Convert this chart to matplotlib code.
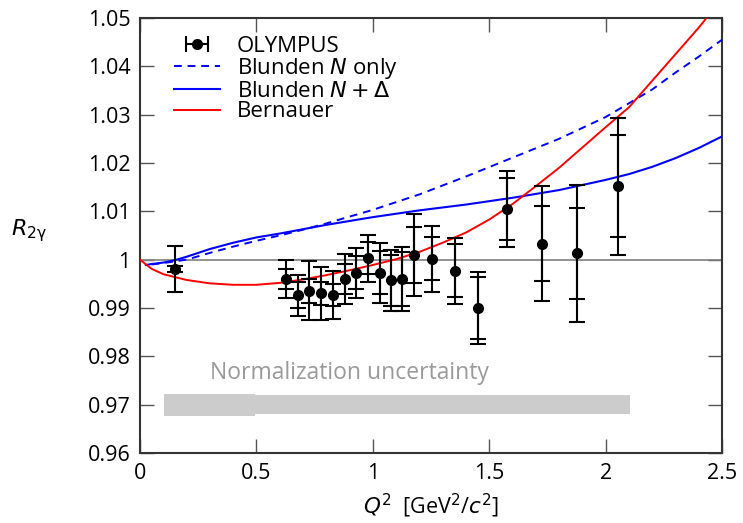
import numpy as np
import matplotlib
matplotlib.use("Agg")
import matplotlib.pyplot as plt
from matplotlib.ticker import FuncFormatter, MultipleLocator

plt.rcParams['font.family'] = ['Open Sans', 'DejaVu Sans']
plt.rcParams['mathtext.fontset'] = 'dejavusans'

# OLYMPUS data
q2 = [0.150, 0.627, 0.679, 0.727, 0.777, 0.827, 0.880, 0.927, 0.980, 1.030,
      1.079, 1.127, 1.177, 1.253, 1.354, 1.454, 1.578, 1.728, 1.879, 2.055]
r2g = [0.9981, 0.9960, 0.9926, 0.9936, 0.9930, 0.9927, 0.9960, 0.9973, 1.0003, 0.9973,
       0.9957, 0.9960, 1.0010, 1.0002, 0.9977, 0.9900, 1.0105, 1.0033, 1.0013, 1.0152]
err_stat = [0.0006, 0.0020, 0.0027, 0.0025, 0.0024, 0.0022, 0.0032, 0.0034, 0.0033, 0.0045,
            0.0053, 0.0055, 0.0058, 0.0045, 0.0055, 0.0064, 0.0064, 0.0078, 0.0094, 0.0105]
err_tot = [0.0047, 0.0040, 0.0042, 0.0061, 0.0054, 0.0049, 0.0051, 0.0052, 0.0049, 0.0062,
           0.0064, 0.0066, 0.0085, 0.0068, 0.0068, 0.0074, 0.0078, 0.0119, 0.0141, 0.0142]

# Blunden N only (dashed)
bn_q2 = [0.05, 0.1, 0.2, 0.3, 0.4, 0.5, 0.6, 0.7, 0.8, 0.9, 1.0, 1.2, 1.4, 1.6, 1.8, 2.0, 2.2, 2.3, 2.4, 2.5]
bn_r = [0.9990, 0.9993, 1.0000, 1.0014, 1.0027, 1.0039, 1.0050, 1.0062, 1.0075, 1.0089, 1.0103,
        1.0135, 1.0172, 1.0211, 1.0250, 1.0295, 1.0352, 1.0387, 1.0420, 1.0455]

# Blunden N + Delta (solid)
bnd_q2 = [0.025, 0.05, 0.1, 0.15, 0.2, 0.25, 0.3, 0.4, 0.5, 0.6, 0.7, 0.8, 0.9, 1.0, 1.2, 1.4,
          1.6, 1.8, 2.0, 2.1, 2.2, 2.3, 2.4, 2.5]
bnd_r = [0.9989, 0.9991, 0.9994, 0.9999, 1.0006, 1.0014, 1.0022, 1.0035, 1.0046, 1.0054, 1.0063,
         1.0072, 1.0080, 1.0088, 1.0102, 1.0114, 1.0128, 1.0144, 1.0165, 1.0177, 1.0192, 1.0210,
         1.0231, 1.0255]

# Bernauer (red)
be_q2 = [0.0, 0.05, 0.1, 0.2, 0.3, 0.4, 0.5, 0.6, 0.7, 0.8, 0.9, 1.0, 1.1, 1.2, 1.3, 1.4, 1.5,
         1.6, 1.7, 1.8, 1.9, 2.0, 2.1, 2.2, 2.3, 2.4, 2.5]
be_r = [1.0000, 0.9981, 0.9970, 0.9958, 0.9951, 0.9948, 0.9948, 0.9952, 0.9959, 0.9968, 0.9978,
        0.9989, 1.0001, 1.0016, 1.0035, 1.0056, 1.0083, 1.0115, 1.0152, 1.0190, 1.0232, 1.0274,
        1.0315, 1.0370, 1.0425, 1.0480, 1.0540]

# Normalization uncertainty band
norm_x = [0.103, 0.493, 2.103]
norm_center = 0.970
norm_half = [0.0023, 0.0020]

fig = plt.figure(figsize=(7.43, 5.23), dpi=100)
ax = fig.add_axes([140/743, 1-453/523, (722-140)/743, (453-18)/523])

# band
ax.fill_between([norm_x[0], norm_x[1]], norm_center - norm_half[0], norm_center + norm_half[0],
                color='#cccccc', lw=0, zorder=1)
ax.fill_between([norm_x[1], norm_x[2]], norm_center - norm_half[1], norm_center + norm_half[1],
                color='#cccccc', lw=0, zorder=1)
ax.text(0.30, 0.9740, 'Normalization uncertainty', color='#999999', fontsize=16.5,
        ha='left', va='bottom', zorder=2)

ax.axhline(1.0, color='#7f7f7f', lw=1.2, zorder=2)

l1, = ax.plot(bn_q2, bn_r, color='#0000ff', lw=1.4, ls=(0, (4, 3)), zorder=3)
l2, = ax.plot(bnd_q2, bnd_r, color='#0000ff', lw=1.5, zorder=3)
l3, = ax.plot(be_q2, be_r, color='#ff0000', lw=1.4, zorder=3)

ax.errorbar(q2, r2g, yerr=err_tot, fmt='none', ecolor='k', elinewidth=1.5, capsize=6,
            capthick=1.5, zorder=4)
ax.errorbar(q2, r2g, yerr=err_stat, fmt='o', color='k', ms=7, elinewidth=1.5, capsize=6,
            capthick=1.5, zorder=5)

proxy = ax.errorbar([np.nan], [np.nan], xerr=[[0.1], [0.1]], fmt='o', color='k', ms=7,
                    elinewidth=1.5, capsize=6, capthick=1.5)

leg = ax.legend([proxy, l1, l2, l3], ['OLYMPUS', r'Blunden $N$ only', r'Blunden $N+\Delta$', 'Bernauer'],
                loc='upper left', bbox_to_anchor=(0.035, 0.99), frameon=False, fontsize=16,
                handlelength=2.1, handletextpad=0.75, labelspacing=-0.02, borderaxespad=0.3,
                borderpad=0.3)

ax.set_xlim(0, 2.5)
ax.set_ylim(0.96, 1.05)
ax.xaxis.set_major_locator(MultipleLocator(0.5))
ax.yaxis.set_major_locator(MultipleLocator(0.01))
fmt = FuncFormatter(lambda v, p: '%g' % round(v, 4))
ax.xaxis.set_major_formatter(fmt)
ax.yaxis.set_major_formatter(fmt)
ax.tick_params(direction='in', length=10, width=1, color='#555555', top=True, right=True,
               labelsize=15.5, pad=7)
for s in ax.spines.values():
    s.set_linewidth(1.5)
    s.set_color('#333333')

ax.set_xlabel(r'$Q^2$  [GeV$^2$/$c^2$]', fontsize=15.5)
ax.xaxis.set_label_coords(0.5, -0.09)
ax.set_ylabel(r'$R_{\mathrm{2γ}}$', fontsize=16, rotation=0)
ax.yaxis.set_label_coords(-0.19, 0.48)

fig.savefig('out.png', dpi=100)
